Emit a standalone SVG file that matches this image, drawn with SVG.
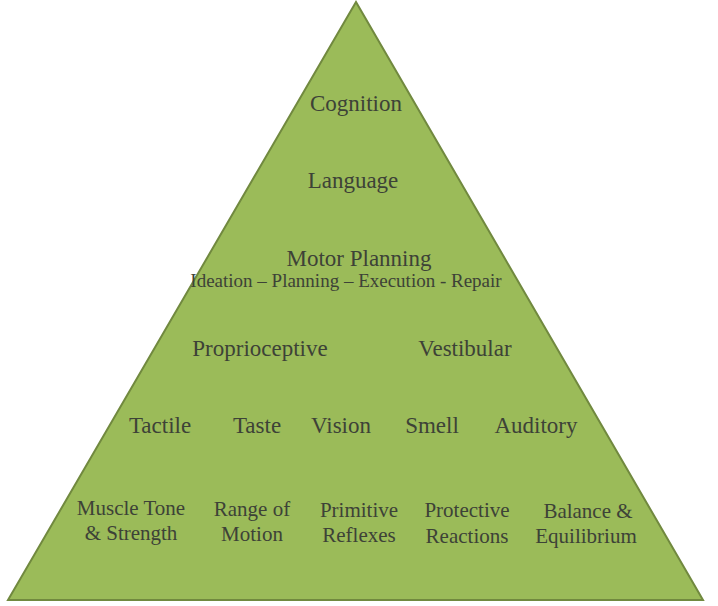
<svg xmlns="http://www.w3.org/2000/svg" width="718" height="606" viewBox="0 0 718 606">
<style>
.bg{fill:#ffffff}
.pyr{fill:#9bbb59;stroke:#71893f;stroke-width:2;stroke-linejoin:miter}
.t{fill:#3d4237;text-anchor:middle}
.l{font-size:23px}
.m{font-size:21px}
.s{font-size:19px}
</style>
<rect class="bg" x="0" y="0" width="718" height="606"/>
<g id="pyramid">
<polygon class="pyr" points="8,600 356,2 703,600"/>
</g>
<g id="connectors"/>
<g font-family="Liberation Serif, Times New Roman, serif">
<g id="cognition"><text class="t l" x="356" y="111">Cognition</text></g>
<g id="language"><text class="t l" x="353" y="188">Language</text></g>
<g id="motor-planning">
<text class="t l" x="359" y="266">Motor Planning</text>
<text class="t s" x="346" y="287">Ideation – Planning – Execution - Repair</text>
</g>
<g id="proprioceptive"><text class="t l" x="260" y="356">Proprioceptive</text></g>
<g id="vestibular"><text class="t l" x="465" y="356">Vestibular</text></g>
<g id="tactile"><text class="t l" x="160" y="433">Tactile</text></g>
<g id="taste"><text class="t l" x="257" y="433">Taste</text></g>
<g id="vision"><text class="t l" x="341" y="433">Vision</text></g>
<g id="smell"><text class="t l" x="432" y="433">Smell</text></g>
<g id="auditory"><text class="t l" x="536" y="433">Auditory</text></g>
<g id="muscle-tone">
<text class="t m" x="131" y="515">Muscle Tone</text>
<text class="t m" x="131" y="540">&amp; Strength</text>
</g>
<g id="range-of-motion">
<text class="t m" x="252" y="516">Range of</text>
<text class="t m" x="252" y="541">Motion</text>
</g>
<g id="primitive-reflexes">
<text class="t m" x="359" y="517">Primitive</text>
<text class="t m" x="359" y="542">Reflexes</text>
</g>
<g id="protective-reactions">
<text class="t m" x="467" y="517">Protective</text>
<text class="t m" x="467" y="543">Reactions</text>
</g>
<g id="balance-equilibrium">
<text class="t m" x="588" y="518">Balance &amp;</text>
<text class="t m" x="586" y="543">Equilibrium</text>
</g>
</g>
</svg>
